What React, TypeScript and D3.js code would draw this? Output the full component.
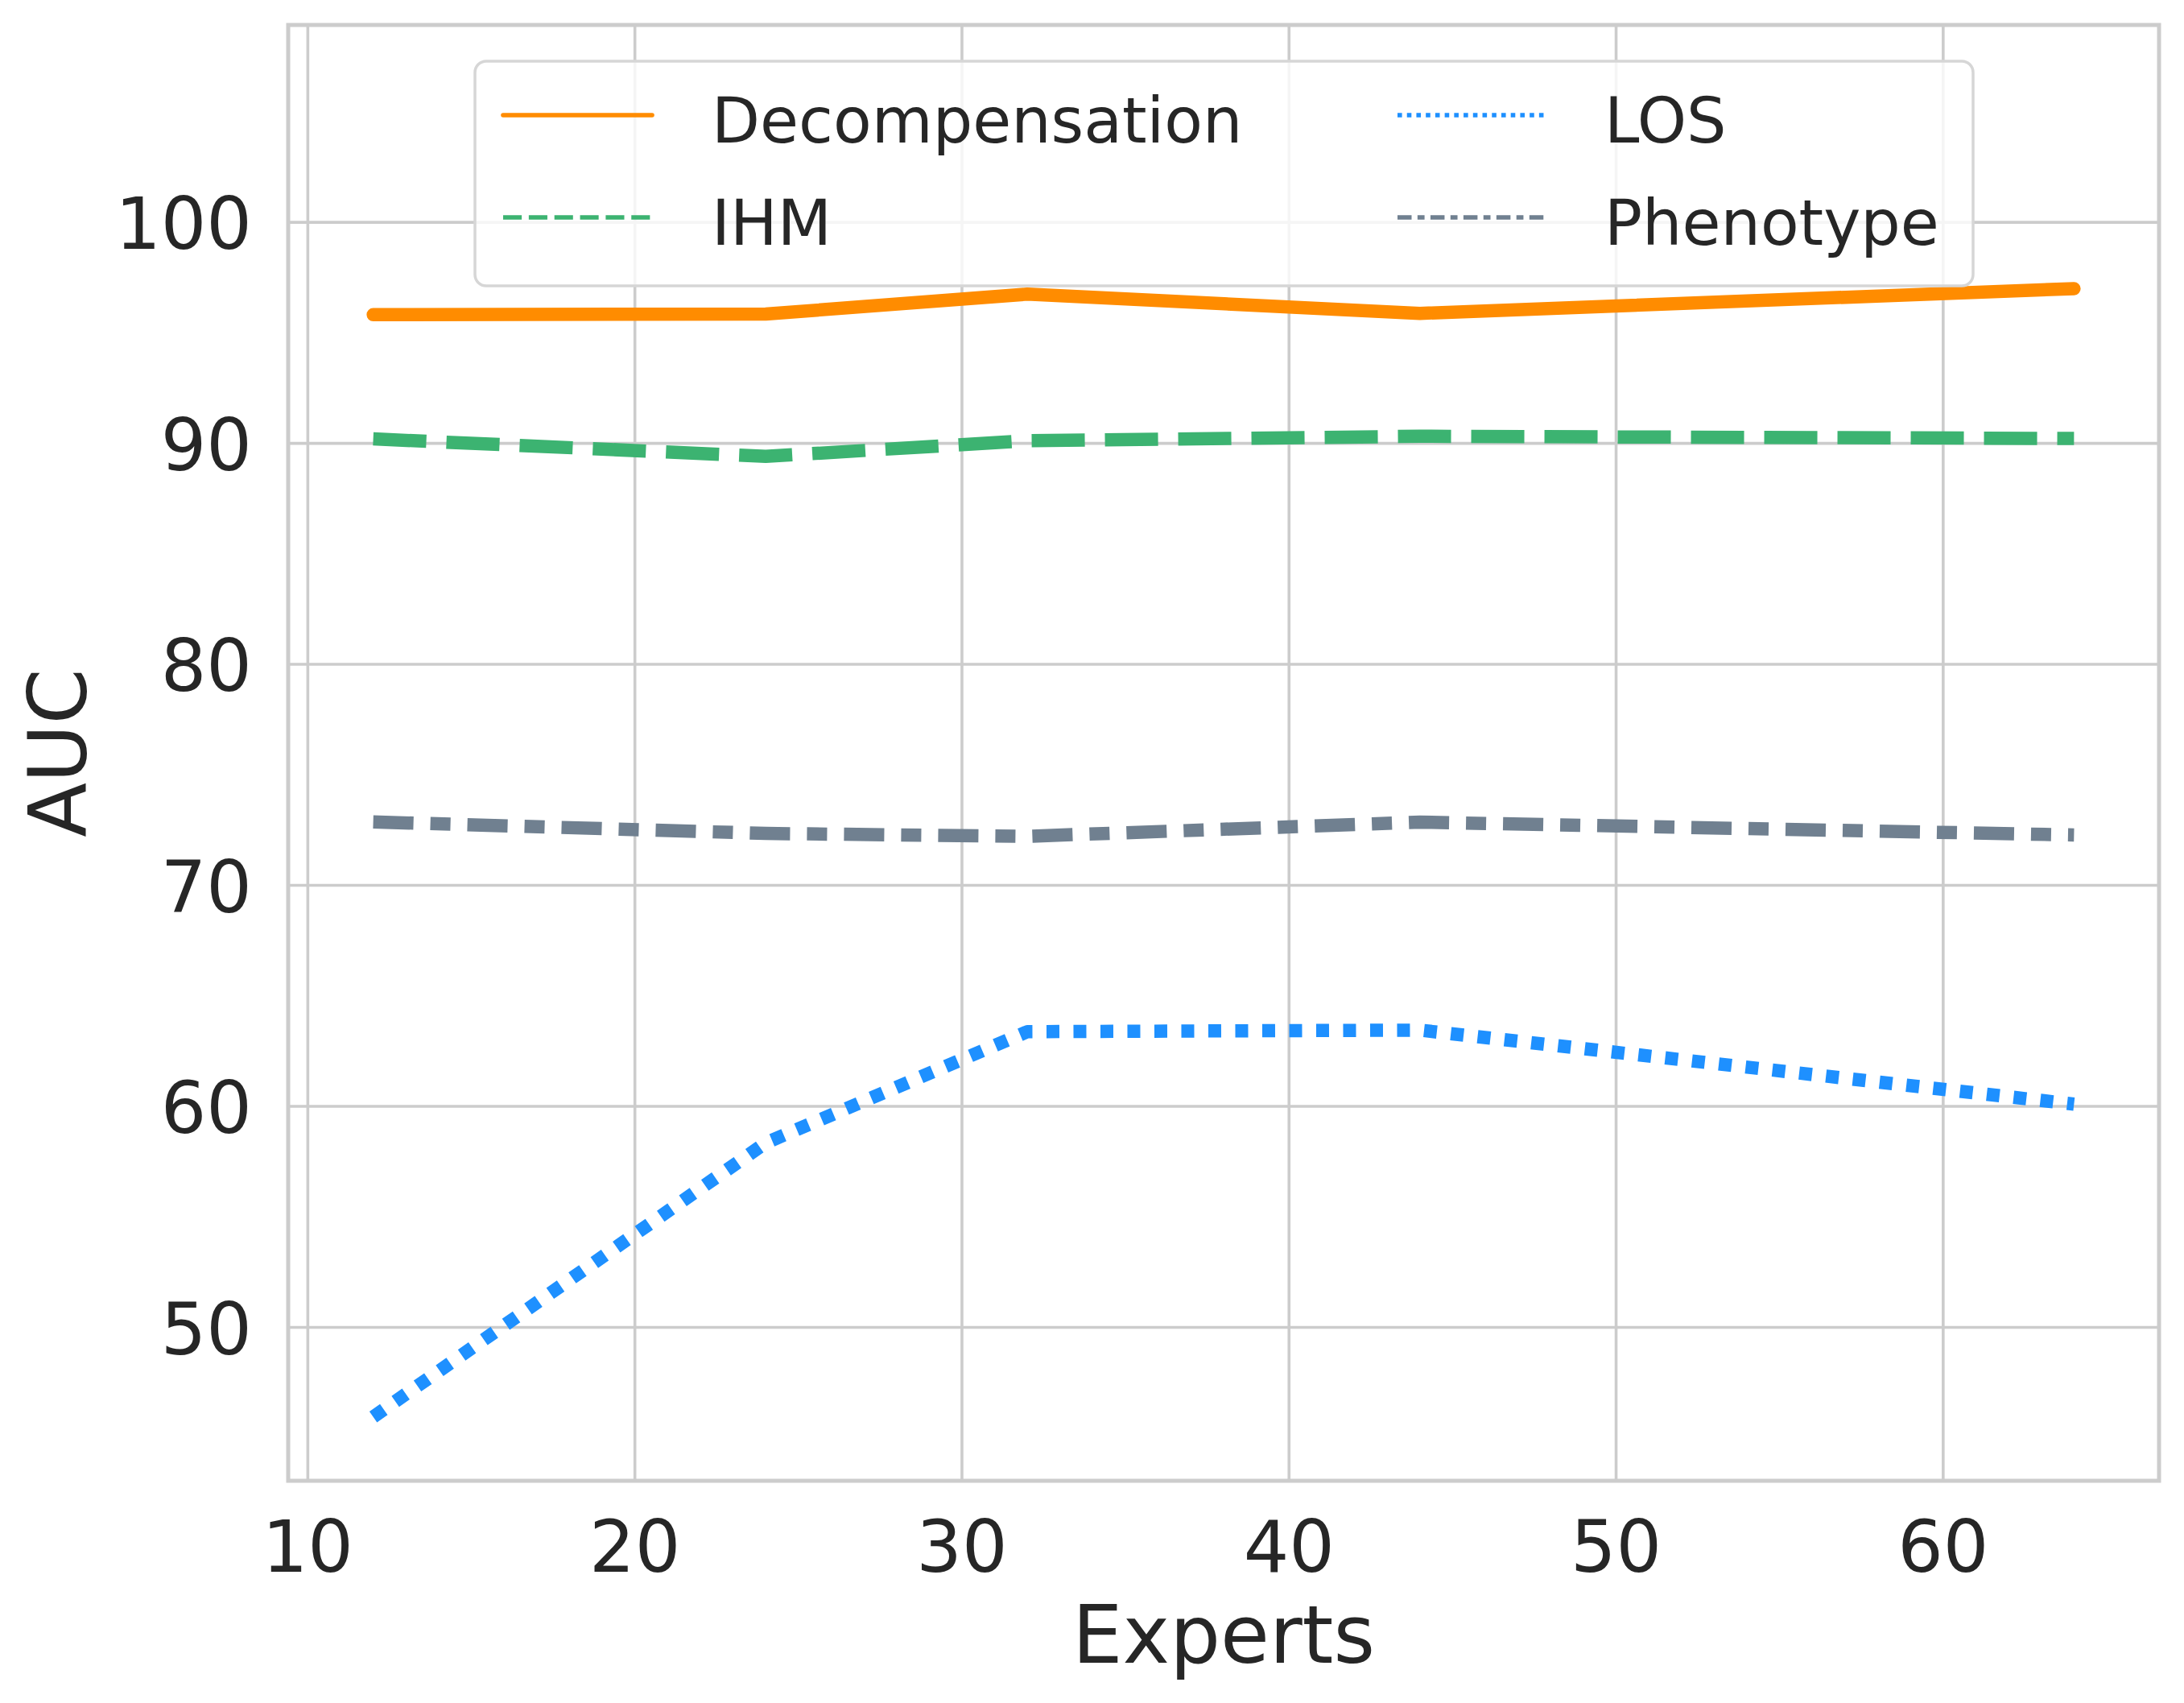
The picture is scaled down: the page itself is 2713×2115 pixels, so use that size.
import { useRef, useEffect } from 'react'
import * as d3 from 'd3'

const experts = [12, 24, 32, 44, 64]
const decompensation = [95.82, 95.85, 96.75, 95.88, 97.0]
const ihm = [90.2, 89.41, 90.12, 90.32, 90.22]
const los = [45.95, 58.35, 63.38, 63.45, 60.1]
const phenotype = [72.87, 72.35, 72.22, 72.86, 72.28]

const xTicks = [10, 20, 30, 40, 50, 60]
const yTicks = [50, 60, 70, 80, 90, 100]

interface Series {
  name: string
  values: number[]
  color: string
  dash: number[] | null
}

const series: Series[] = [
  { name: 'Decompensation', values: decompensation, color: '#ff8c00', dash: null },
  { name: 'IHM', values: ihm, color: '#3cb371', dash: [66, 25] },
  { name: 'LOS', values: los, color: '#1e90ff', dash: [16, 17.5] },
  { name: 'Phenotype', values: phenotype, color: '#708090', dash: [50, 21, 25, 21] },
]

const W = 2713
const H = 2115
const FONT = '"DejaVu Sans", sans-serif'
const TEXT = '#262626'
const GRID = '#cccccc'

export default function App() {
  const svgRef = useRef<SVGSVGElement>(null)

  useEffect(() => {
    if (!svgRef.current) return
    const svg = d3.select(svgRef.current)
    svg.selectAll('*').remove()

    const left = 358
    const right = 2682
    const top = 31
    const bottom = 1839

    const x = d3.scaleLinear().domain([9.4, 66.6]).range([left, right])
    const y = d3.scaleLinear().domain([43.06, 108.93]).range([bottom, top])

    svg.append('rect').attr('width', W).attr('height', H).attr('fill', '#fff')

    // grid
    const grid = svg.append('g').attr('stroke', GRID).attr('stroke-width', 3.6)
    xTicks.forEach((t) => {
      grid.append('line').attr('x1', x(t)).attr('x2', x(t)).attr('y1', top).attr('y2', bottom)
    })
    yTicks.forEach((t) => {
      grid.append('line').attr('x1', left).attr('x2', right).attr('y1', y(t)).attr('y2', y(t))
    })

    // frame
    svg
      .append('rect')
      .attr('x', left)
      .attr('y', top)
      .attr('width', right - left)
      .attr('height', bottom - top)
      .attr('fill', 'none')
      .attr('stroke', GRID)
      .attr('stroke-width', 5)

    // tick labels
    svg
      .append('g')
      .selectAll('text')
      .data(xTicks)
      .join('text')
      .attr('x', (d) => x(d))
      .attr('y', 1952)
      .attr('text-anchor', 'middle')
      .attr('font-family', FONT)
      .attr('font-size', 89)
      .attr('fill', TEXT)
      .text((d) => d)

    svg
      .append('g')
      .selectAll('text')
      .data(yTicks)
      .join('text')
      .attr('x', 313)
      .attr('y', (d) => y(d) + 33)
      .attr('text-anchor', 'end')
      .attr('font-family', FONT)
      .attr('font-size', 89)
      .attr('fill', TEXT)
      .text((d) => d)

    // axis labels
    svg
      .append('text')
      .attr('x', (left + right) / 2)
      .attr('y', 2065)
      .attr('text-anchor', 'middle')
      .attr('font-family', FONT)
      .attr('font-size', 99)
      .attr('fill', TEXT)
      .text('Experts')

    svg
      .append('text')
      .attr('transform', `translate(107,${(top + bottom) / 2}) rotate(-90)`)
      .attr('text-anchor', 'middle')
      .attr('font-family', FONT)
      .attr('font-size', 99)
      .attr('fill', TEXT)
      .text('AUC')

    // lines
    const line = d3
      .line<number>()
      .x((_, i) => x(experts[i]))
      .y((d) => y(d))

    series.forEach((s) => {
      svg
        .append('path')
        .datum(s.values)
        .attr('fill', 'none')
        .attr('stroke', s.color)
        .attr('stroke-width', 16.5)
        .attr('stroke-linejoin', 'round')
        .attr('stroke-linecap', s.dash ? 'butt' : 'round')
        .attr('stroke-dasharray', s.dash ? s.dash.join(' ') : null)
        .attr('d', line)
    })

    // legend
    const legend = svg.append('g')
    legend
      .append('rect')
      .attr('x', 590)
      .attr('y', 76)
      .attr('width', 1861)
      .attr('height', 279)
      .attr('rx', 14)
      .attr('fill', '#fff')
      .attr('fill-opacity', 0.8)
      .attr('stroke', '#d6d6d6')
      .attr('stroke-width', 3.5)

    const cols = [
      { hx: 625, tx: 884 },
      { hx: 1736, tx: 1993 },
    ]
    const rows = [143, 270]
    const scale = 0.35
    series.forEach((s, i) => {
      const c = cols[Math.floor(i / 2)]
      const ry = rows[i % 2]
      legend
        .append('line')
        .attr('x1', c.hx)
        .attr('x2', c.hx + 185)
        .attr('y1', ry)
        .attr('y2', ry)
        .attr('stroke', s.color)
        .attr('stroke-width', 5.6)
        .attr('stroke-linecap', s.dash ? 'butt' : 'round')
        .attr('stroke-dasharray', s.dash ? s.dash.map((d) => d * scale).join(' ') : null)
      legend
        .append('text')
        .attr('x', c.tx)
        .attr('y', ry + 34)
        .attr('font-family', FONT)
        .attr('font-size', 78)
        .attr('fill', TEXT)
        .text(s.name)
    })
  }, [])

  return (
    <div style={{ position: 'absolute', left: 0, top: 0 }}>
      <svg ref={svgRef} width={W} height={H} style={{ display: 'block' }} />
    </div>
  )
}
